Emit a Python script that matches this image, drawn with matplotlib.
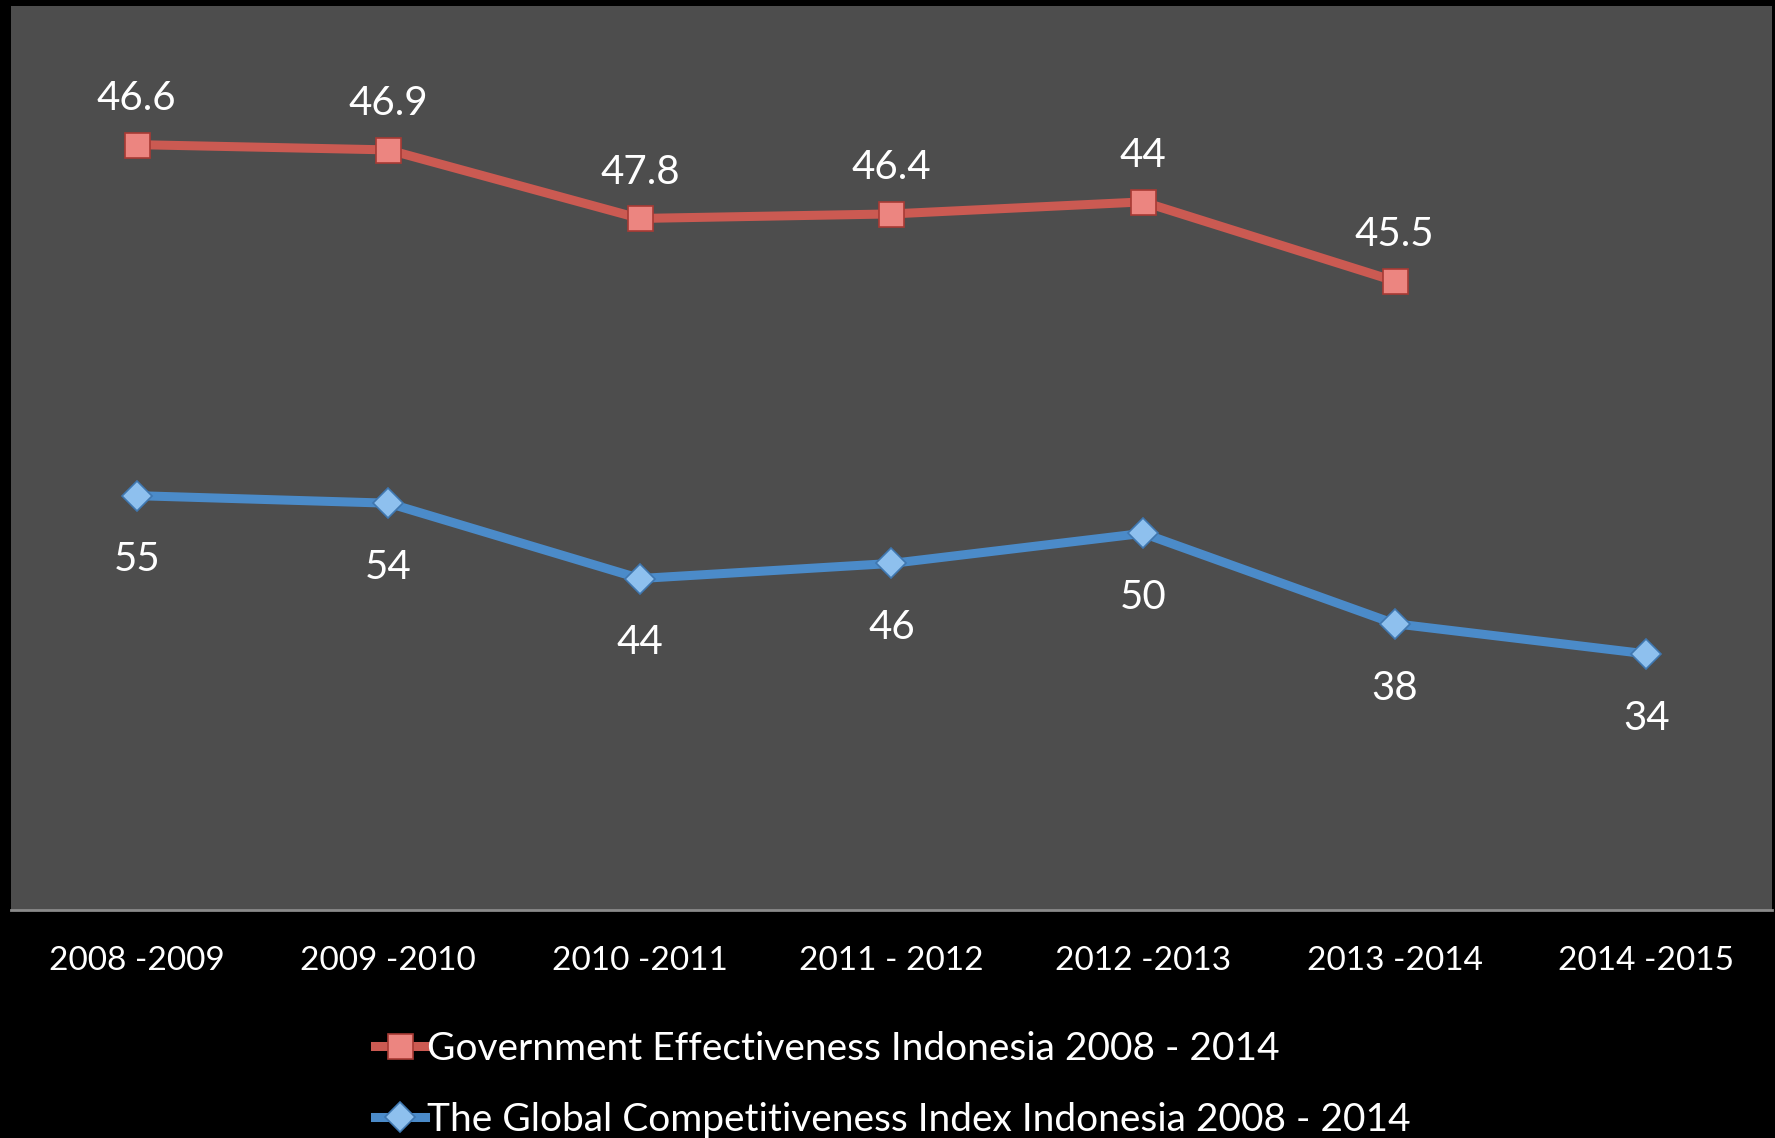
import numpy as np
import matplotlib
matplotlib.use('Agg')
import matplotlib.pyplot as plt

# data (stacked line chart: red is drawn on top of blue)
periods = ["2008 -2009", "2009 -2010", "2010 -2011", "2011 - 2012",
           "2012 -2013", "2013 -2014", "2014 -2015"]
gci = [55, 54, 44, 46, 50, 38, 34]
gov_eff = [46.6, 46.9, 47.8, 46.4, 44, 45.5]

gov_label = "Government Effectiveness Indonesia 2008 - 2014"
gci_label = "The Global Competitiveness Index Indonesia 2008 - 2014"

matplotlib.rcParams['font.family'] = ['Lato', 'DejaVu Sans']

red_line = '#cb5a52'
red_face = '#ec8580'
red_edge = '#a83a34'
blue_line = '#4b8bc9'
blue_face = '#8ec0ee'
blue_edge = '#3f77b0'

fig = plt.figure(figsize=(17.75, 11.38), dpi=100, facecolor='black')
ax = fig.add_axes([0.0062, 0.2004, 0.9921, 0.7943])
ax.set_facecolor('#4d4d4d')

x = np.arange(len(periods))
stacked = np.add(gci[:len(gov_eff)], gov_eff)

l_gci, = ax.plot(x, gci, color=blue_line, lw=6.5, marker='D', ms=15,
                 mfc=blue_face, mec=blue_edge, mew=1.2, label=gci_label,
                 solid_joinstyle='round', zorder=3)
l_gov, = ax.plot(x[:len(gov_eff)], stacked, color=red_line, lw=6.5,
                 marker='s', ms=18, mfc=red_face, mec=red_edge, mew=1.2,
                 label=gov_label, solid_joinstyle='round', zorder=4)

for xi, yi, v in zip(x, stacked, gov_eff):
    ax.annotate(f"{v:g}", (xi, yi), xytext=(0, 20), textcoords='offset points',
                ha='center', va='bottom', color='white', fontsize=29)
for xi, v in zip(x, gci):
    ax.annotate(f"{v:g}", (xi, v), xytext=(0, -33), textcoords='offset points',
                ha='center', va='top', color='white', fontsize=29)

ax.set_xlim(-0.5, len(periods) - 0.5)
ax.set_ylim(0, 120)
ax.set_xticks(x)
ax.set_xticklabels(periods, color='white', fontsize=24)
ax.tick_params(axis='x', length=0, pad=26)
ax.set_yticks([])
for side in ['top', 'left', 'right']:
    ax.spines[side].set_visible(False)
ax.spines['bottom'].set_color('#8a8a8a')
ax.spines['bottom'].set_linewidth(2)

leg = fig.legend(handles=[l_gov, l_gci], loc='upper left',
                 bbox_to_anchor=(0.211, 0.094), frameon=False, fontsize=28,
                 handlelength=1.3, handletextpad=0.05, labelspacing=0.9,
                 borderpad=0, borderaxespad=0)
for t in leg.get_texts():
    t.set_color('white')

fig.savefig('out.png', dpi=100, facecolor='black')
